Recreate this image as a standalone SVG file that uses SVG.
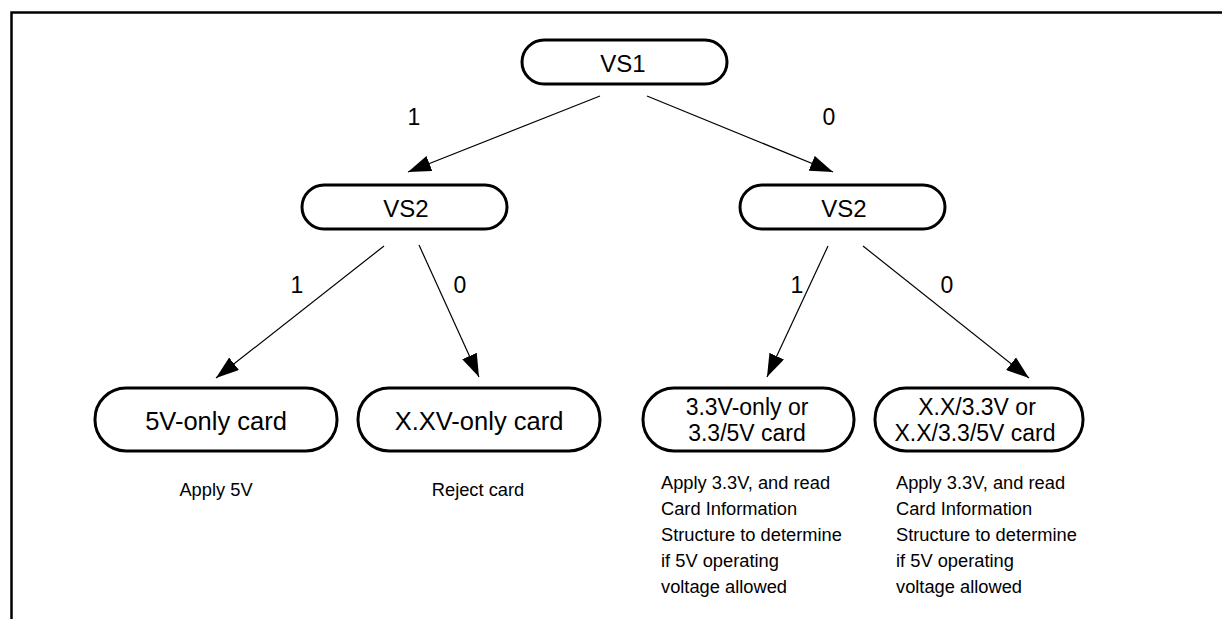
<svg xmlns="http://www.w3.org/2000/svg" width="1222" height="619" viewBox="0 0 1222 619">
<defs>
<style>
.node rect{fill:#fff;stroke:#000;stroke-width:3}
.t{font-family:"Liberation Sans",Arial,sans-serif;fill:#000;text-anchor:middle}
.d{font-family:"Liberation Sans",Arial,sans-serif;fill:#000;font-size:18.3px}
.e{stroke:#000;stroke-width:1.2;fill:none;marker-end:url(#ah)}
</style>
<marker id="ah" markerUnits="userSpaceOnUse" markerWidth="24" markerHeight="16" viewBox="0 0 24 16" refX="23" refY="8" orient="auto">
<path d="M0,0 L23,8 L0,16 Z" fill="#000"/>
</marker>
</defs>
<rect width="1222" height="619" fill="#fff"/>
<path d="M11.5,619 V12.5 H1222" fill="none" stroke="#000" stroke-width="2.5"/>
<g id="connectors">
<line class="e" x1="600" y1="96" x2="408" y2="172"/>
<line class="e" x1="647" y1="96" x2="833" y2="172"/>
<line class="e" x1="384" y1="246" x2="216" y2="378"/>
<line class="e" x1="419" y1="245" x2="479" y2="377"/>
<line class="e" x1="828" y1="246" x2="767" y2="377"/>
<line class="e" x1="863" y1="246" x2="1029" y2="378"/>
<text class="t" x="414" y="125" font-size="23">1</text>
<text class="t" x="829" y="125" font-size="23">0</text>
<text class="t" x="297" y="293" font-size="23">1</text>
<text class="t" x="460" y="293" font-size="23">0</text>
<text class="t" x="797" y="293" font-size="23">1</text>
<text class="t" x="947" y="293" font-size="23">0</text>
</g>
<g id="vs1" class="node">
<rect x="522" y="40" width="205" height="44" rx="22"/>
<text class="t" x="623" y="72" font-size="24">VS1</text>
</g>
<g id="vs2-left" class="node">
<rect x="302" y="185" width="205" height="44" rx="22"/>
<text class="t" x="406" y="217" font-size="24">VS2</text>
</g>
<g id="vs2-right" class="node">
<rect x="740" y="185" width="205" height="44" rx="22"/>
<text class="t" x="844" y="217" font-size="24">VS2</text>
</g>
<g id="card-5v" class="node">
<rect x="95" y="388" width="242" height="63" rx="31"/>
<text class="t" x="216" y="430" font-size="25.5">5V-only card</text>
<text class="d" x="216" y="496" text-anchor="middle">Apply 5V</text>
</g>
<g id="card-xxv" class="node">
<rect x="358" y="388" width="242" height="63" rx="31"/>
<text class="t" x="479" y="430" font-size="25.5">X.XV-only card</text>
<text class="d" x="478" y="496" text-anchor="middle">Reject card</text>
</g>
<g id="card-33v" class="node">
<rect x="643" y="388" width="211" height="63" rx="31"/>
<text class="t" x="747" y="415" font-size="23">3.3V-only or</text>
<text class="t" x="747" y="441" font-size="23">3.3/5V card</text>
<text class="d" x="661" y="489">Apply 3.3V, and read</text>
<text class="d" x="661" y="515">Card Information</text>
<text class="d" x="661" y="541">Structure to determine</text>
<text class="d" x="661" y="567">if 5V operating</text>
<text class="d" x="661" y="593">voltage allowed</text>
</g>
<g id="card-xx33v" class="node">
<rect x="875" y="388" width="208" height="63" rx="31"/>
<text class="t" x="977" y="415" font-size="23">X.X/3.3V or</text>
<text class="t" x="975" y="441" font-size="23">X.X/3.3/5V card</text>
<text class="d" x="896" y="489">Apply 3.3V, and read</text>
<text class="d" x="896" y="515">Card Information</text>
<text class="d" x="896" y="541">Structure to determine</text>
<text class="d" x="896" y="567">if 5V operating</text>
<text class="d" x="896" y="593">voltage allowed</text>
</g>
</svg>
